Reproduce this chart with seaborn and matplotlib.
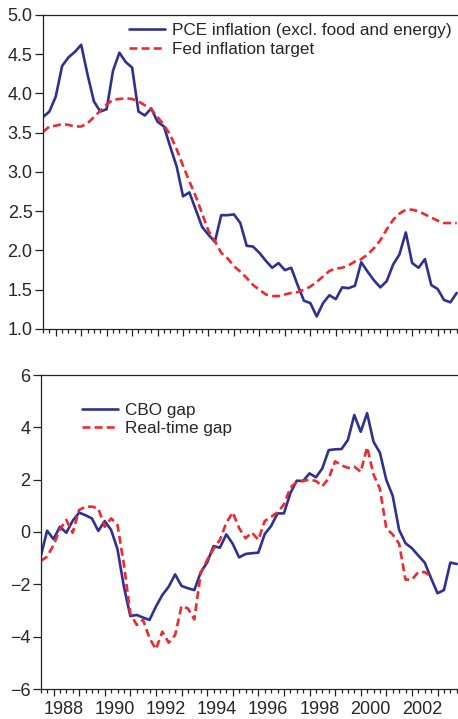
import numpy as np
import pandas as pd
import matplotlib
matplotlib.use('Agg')
import matplotlib.pyplot as plt
import seaborn as sns
from matplotlib.ticker import FixedLocator, MultipleLocator, FuncFormatter
from matplotlib.transforms import ScaledTranslation

# quarterly observations, 1987Q3 - 2003Q4
quarters = pd.period_range('1987Q3', periods=66, freq='Q')

pce_core = [3.70, 3.77, 3.96, 4.35, 4.46, 4.53, 4.62, 4.24, 3.90, 3.77,
            3.80, 4.29, 4.52, 4.40, 4.33, 3.77, 3.72, 3.81, 3.64, 3.58,
            3.32, 3.07, 2.69, 2.74, 2.52, 2.30, 2.20, 2.11, 2.45, 2.45,
            2.46, 2.35, 2.06, 2.05, 1.97, 1.87, 1.78, 1.84, 1.75, 1.78,
            1.56, 1.36, 1.33, 1.16, 1.33, 1.43, 1.38, 1.53, 1.52, 1.55,
            1.85, 1.73, 1.62, 1.53, 1.61, 1.82, 1.95, 2.23, 1.84, 1.78,
            1.89, 1.56, 1.51, 1.37, 1.34, 1.46]

fed_target = [3.51, 3.58, 3.59, 3.61, 3.60, 3.58, 3.58, 3.62, 3.70, 3.78,
              3.86, 3.92, 3.93, 3.94, 3.93, 3.90, 3.85, 3.80, 3.70, 3.60,
              3.47, 3.29, 3.08, 2.88, 2.69, 2.47, 2.25, 2.12, 1.97, 1.90,
              1.80, 1.73, 1.65, 1.56, 1.50, 1.44, 1.42, 1.42, 1.44, 1.46,
              1.47, 1.50, 1.54, 1.60, 1.67, 1.74, 1.77, 1.78, 1.81, 1.86,
              1.89, 1.95, 2.03, 2.13, 2.27, 2.39, 2.47, 2.52, 2.52, 2.50,
              2.46, 2.42, 2.38, 2.35, 2.35, 2.35]

cbo_gap = [-0.94, 0.05, -0.27, 0.20, -0.03, 0.43, 0.74, 0.64, 0.52, 0.04,
           0.42, 0.08, -0.66, -2.09, -3.21, -3.17, -3.27, -3.36, -2.85, -2.41,
           -2.09, -1.62, -2.06, -2.15, -2.22, -1.54, -1.17, -0.54, -0.60, -0.09,
           -0.45, -0.97, -0.84, -0.81, -0.79, -0.08, 0.23, 0.71, 0.71, 1.48,
           1.96, 1.95, 2.24, 2.09, 2.43, 3.13, 3.16, 3.17, 3.52, 4.47,
           3.83, 4.54, 3.45, 3.03, 1.99, 1.38, 0.08, -0.43, -0.62, -0.90,
           -1.17, -1.77, -2.34, -2.22, -1.17, -1.22]

realtime_gap = [-1.11, -0.94, -0.50, 0.10, 0.46, -0.03, 0.84, 0.97, 0.97, 0.90,
                0.20, 0.52, 0.27, -1.25, -3.11, -3.55, -3.36, -4.06, -4.48, -3.81,
                -4.23, -3.94, -2.83, -2.92, -3.34, -1.58, -1.07, -0.65, -0.30, 0.35,
                0.75, 0.15, -0.24, -0.02, -0.30, 0.42, 0.58, 0.75, 1.05, 1.69,
                1.92, 1.95, 2.00, 1.95, 1.75, 2.05, 2.70, 2.55, 2.45, 2.50,
                2.30, 3.24, 2.20, 1.65, 0.14, -0.10, -0.45, -1.82, -1.82, -1.53,
                -1.53, -1.70, np.nan, np.nan, np.nan, np.nan]

years = list(range(1988, 2004))

df = pd.DataFrame({
    't': quarters.year + (quarters.quarter - 1) / 4,
    'pce': pce_core, 'target': fed_target,
    'cbo': cbo_gap, 'rt': realtime_gap,
})

BLUE = '#2E3192'
RED = '#EE2A2F'
TXT = '#262626'

sns.set_style('ticks')
plt.rcParams['font.family'] = ['Liberation Sans', 'DejaVu Sans']
plt.rcParams['font.size'] = 12
plt.rcParams['axes.linewidth'] = 0.9
plt.rcParams['axes.edgecolor'] = '#222222'

fig = plt.figure(figsize=(4.58, 7.19), dpi=100)
ax1 = fig.add_axes([43 / 458, 1 - 329 / 719, 415 / 458, 314 / 719])
ax2 = fig.add_axes([40.7 / 458, 1 - 689 / 719, 417.3 / 458, 314 / 719])

sns.lineplot(data=df, x='t', y='pce', ax=ax1, color=BLUE, lw=1.9,
             label='PCE inflation (excl. food and energy)')
sns.lineplot(data=df, x='t', y='target', ax=ax1, color=RED, lw=1.9,
             linestyle=(0, (3, 1.6)), label='Fed inflation target')

sns.lineplot(data=df, x='t', y='cbo', ax=ax2, color=BLUE, lw=1.9, label='CBO gap')
sns.lineplot(data=df.dropna(subset=['rt']), x='t', y='rt', ax=ax2, color=RED, lw=1.9,
             linestyle=(0, (3, 1.6)), label='Real-time gap')

for ax in (ax1, ax2):
    ax.set_xlim(1987.5, 2003.8)
    ax.set_xlabel('')
    ax.set_ylabel('')
    ax.spines['right'].set_visible(False)
    ax.xaxis.set_major_locator(FixedLocator(years))
    ax.xaxis.set_minor_locator(MultipleLocator(0.25))
    ax.tick_params(axis='x', which='major', length=5, width=0.9, direction='out',
                   colors='#222222', labelcolor=TXT, pad=4)
    ax.tick_params(axis='x', which='minor', length=3, width=0.9, direction='out', colors='#222222')
    ax.tick_params(axis='y', which='major', length=6, width=0.9, direction='out',
                   colors='#222222', labelcolor=TXT, pad=1.5, labelsize=13)

ax1.set_ylim(1.0, 5.0)
ax1.set_yticks(np.arange(1.0, 5.01, 0.5))
ax1.yaxis.set_major_formatter(FuncFormatter(lambda v, p: f'{v:.1f}'))
ax1.tick_params(axis='x', labelbottom=False)

ax2.set_ylim(-6, 6)
ax2.set_yticks(np.arange(-6, 7, 2))
ax2.xaxis.set_major_formatter(FuncFormatter(lambda v, p: str(int(round(v))) if int(round(v)) % 2 == 0 else ''))
ax2.tick_params(axis='x', labelsize=13)

leg1 = ax1.legend(loc='upper left', bbox_to_anchor=(0.208, 0.976), frameon=False,
                  borderpad=0, borderaxespad=0, handlelength=2.1, handletextpad=0.4,
                  labelspacing=0.25, fontsize=12.3)
leg2 = ax2.legend(loc='upper left', bbox_to_anchor=(0.099, 0.912), frameon=False,
                  borderpad=0, borderaxespad=0, handlelength=2.1, handletextpad=0.4,
                  labelspacing=0.22, fontsize=12.3)
for leg in (leg1, leg2):
    for t in leg.get_texts():
        t.set_color(TXT)

# year labels sit inside the year span, right of the year tick
shift = ScaledTranslation(10 / 100, 0, fig.dpi_scale_trans)
for lbl in ax2.xaxis.get_majorticklabels():
    lbl.set_transform(lbl.get_transform() + shift)

fig.savefig('out.png', dpi=100)
